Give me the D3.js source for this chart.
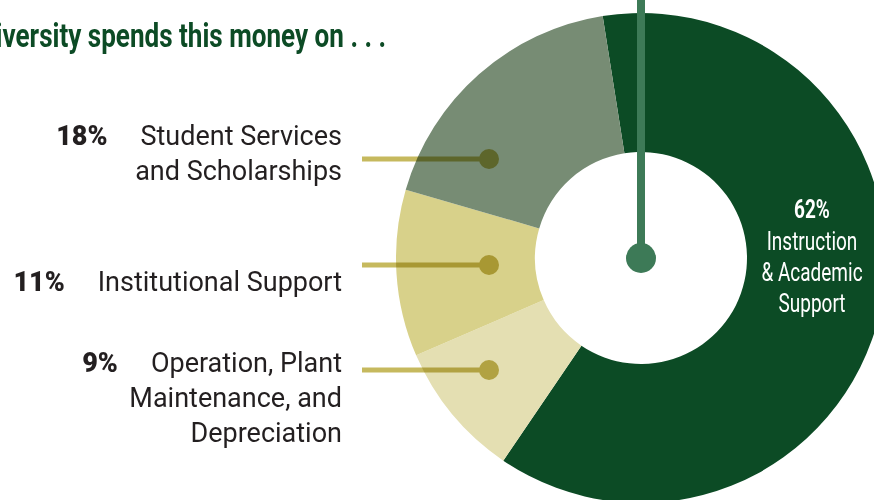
<!DOCTYPE html>
<html>
<head>
<meta charset="utf-8">
<script src="https://cdn.jsdelivr.net/npm/d3@7"></script>
<style>
  html, body { margin: 0; padding: 0; background: #fff; overflow: hidden; }
  svg { display: block; }
</style>
</head>
<body>
<svg id="chart" width="874" height="500"></svg>
<script>
// Spending categories, clockwise from the top of the ring
const categories = [
  "Instruction & Academic Support",
  "Operation, Plant Maintenance, and Depreciation",
  "Institutional Support",
  "Student Services and Scholarships"
];
const shares = [62, 9, 11, 18];
const sliceColors = ["#0c4b25", "#e4dfb2", "#d8d18a", "#778c74"];

// Left-hand callouts (label lines per category)
const calloutCategories = [
  "Student Services and Scholarships",
  "Institutional Support",
  "Operation, Plant Maintenance, and Depreciation"
];
const calloutLines = [
  ["Student Services", "and Scholarships"],
  ["Institutional Support"],
  ["Operation, Plant", "Maintenance, and", "Depreciation"]
];
const mainLabelLines = ["Instruction", "& Academic", "Support"];
const titleText = "The University spends this money on . . .";

const svg = d3.select("#chart");
const cx = 641, cy = 258;
const outerR = 245, innerR = 106;

// Title in a condensed bold face, running off the left edge
svg.append("text")
  .attr("transform", "translate(386,47) scale(0.79,1)")
  .attr("text-anchor", "end")
  .attr("font-family", "Roboto, sans-serif")
  .attr("font-weight", 700)
  .attr("font-size", 33)
  .attr("fill", "#0c4b25")
  .text(titleText);

// Donut
const pie = d3.pie().sort(null)
  .startAngle(-9 * Math.PI / 180)
  .endAngle(351 * Math.PI / 180);
const arcs = pie(shares);
const arc = d3.arc().innerRadius(innerR).outerRadius(outerR);

const ring = svg.append("g").attr("transform", `translate(${cx},${cy})`);
ring.selectAll("path")
  .data(arcs)
  .join("path")
  .attr("d", arc)
  .attr("fill", (d, i) => sliceColors[i]);

// Label inside the largest slice (condensed)
const labelX = 812, squeeze = 0.76;
const mainLabel = svg.append("text")
  .attr("transform", `translate(${labelX},0) scale(${squeeze},1)`)
  .attr("text-anchor", "middle")
  .attr("font-family", "Roboto, sans-serif")
  .attr("fill", "#ffffff");
mainLabel.append("tspan")
  .attr("x", 0).attr("y", 218)
  .attr("font-weight", 700).attr("font-size", 25)
  .text(shares[0] + "%");
mainLabelLines.forEach((t, i) => {
  mainLabel.append("tspan")
    .attr("x", 0).attr("y", 250 + i * 31)
    .attr("font-size", 25)
    .text(t);
});

// Vertical stem into the hole
svg.append("line")
  .attr("x1", cx).attr("x2", cx)
  .attr("y1", 0).attr("y2", cy)
  .attr("stroke", "#3d7a57").attr("stroke-width", 8);
svg.append("circle")
  .attr("cx", cx).attr("cy", cy).attr("r", 15)
  .attr("fill", "#3d7a57");

// Left callouts with leader lines
const leaderY = [159, 265, 370];
const firstBaseline = [145, 291, 372];
const textRight = 342;
const lineGap = 35;

calloutCategories.forEach((cat, k) => {
  const idx = categories.indexOf(cat);
  const y = leaderY[k];

  const g = svg.append("g").style("mix-blend-mode", "multiply");
  g.append("line")
    .attr("x1", 362).attr("x2", 489)
    .attr("y1", y).attr("y2", y)
    .attr("stroke", "#c6b95e").attr("stroke-width", 5);
  g.append("circle")
    .attr("cx", 489).attr("cy", y).attr("r", 10)
    .attr("fill", "#c6b95e");

  const lines = calloutLines[k];
  let firstWidth = 0;
  lines.forEach((t, j) => {
    const tx = svg.append("text")
      .attr("x", textRight)
      .attr("y", firstBaseline[k] + j * lineGap)
      .attr("text-anchor", "end")
      .attr("font-family", "Roboto, sans-serif")
      .attr("font-size", 27)
      .attr("fill", "#231f20")
      .text(t);
    if (j === 0) firstWidth = tx.node().getComputedTextLength();
  });
  svg.append("text")
    .attr("x", textRight - firstWidth - 33)
    .attr("y", firstBaseline[k])
    .attr("text-anchor", "end")
    .attr("font-family", "Roboto, sans-serif")
    .attr("font-weight", 900)
    .attr("font-size", 27)
    .attr("fill", "#231f20")
    .text(shares[idx] + "%");
});
</script>
</body>
</html>
